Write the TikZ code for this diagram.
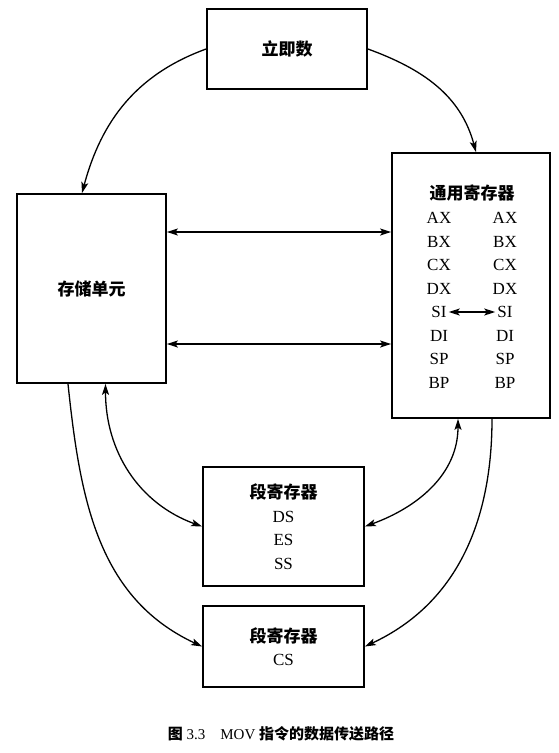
\documentclass[tikz,border=0pt]{standalone}
\usepackage{fontspec}
\setmainfont{Liberation Serif}
\newfontfamily\cjk{Noto Sans CJK SC}
\usetikzlibrary{arrows.meta}
\newcommand{\movTip}{Stealth[length=11pt,width=7pt,inset=2.5pt]}

\begin{document}
\begin{tikzpicture}[x=1pt,y=-1pt,
  movBox/.style={draw, line width=1.8pt, inner sep=0pt, align=center, font={\fontsize{17}{23.5}\selectfont}},
  movHead/.style={font={\cjk\bfseries\fontsize{17}{20}\selectfont}},
  movReg/.style={font={\fontsize{17}{20}\selectfont}, inner sep=2pt},
  movOne/.style={line width=1.3pt, -{\movTip}},
  movTwo/.style={line width=1.3pt, {\movTip}-{\movTip}}]
\useasboundingbox (0,0) rectangle (558,753);
\node[movBox, minimum width=160pt, minimum height=80pt] (imm) at (287,49) {\cjk\bfseries 立即数};
\node[movBox, minimum width=149pt, minimum height=189pt] (mem) at (91.5,288.5) {\cjk\bfseries 存储单元};
\node[movBox, minimum width=158pt, minimum height=265pt] (gpr) at (471,285.5) {};
\node[movBox, minimum width=161pt, minimum height=119pt] (seg) at (283.5,526.5) {{\cjk\bfseries 段寄存器}\\DS\\ES\\SS};
\node[movBox, minimum width=161pt, minimum height=81pt] (cs) at (283.5,646.5) {{\cjk\bfseries 段寄存器}\\CS};
\node[movHead] (gprHead) at (472,193) {通用寄存器};
\foreach \r [count=\i from 0] in {AX,BX,CX,DX,SI,DI,SP,BP}{
  \node[movReg] (l\i) at (439,{218+23.5*\i}) {\r};
  \node[movReg] (r\i) at (505,{218+23.5*\i}) {\r};
}
\draw[movTwo] (l4.east) -- (r4.west);
\draw[movOne] (imm.west) to[out=200,in=75] ([xshift=-9.5pt]mem.north);
\draw[movOne] (imm.east) to[out=-20,in=105] ([xshift=5pt]gpr.north);
\draw[movTwo] ([yshift=56.5pt]mem.east) -- ([yshift=56.5pt]mem.east -| gpr.west);
\draw[movTwo] ([yshift=-55.5pt]mem.east) -- ([yshift=-55.5pt]mem.east -| gpr.west);
\draw[movTwo] ([xshift=14pt]mem.south) to[out=-90,in=160] (seg.west);
\draw[movTwo] ([xshift=-13pt]gpr.south) to[out=-90,in=20] (seg.east);
\draw[movOne] ([xshift=-23.5pt]mem.south) to[out=-84,in=155] (cs.west);
\draw[movOne] ([xshift=21pt]gpr.south) to[out=-90,in=25] (cs.east);
\node[font={\fontsize{15}{17}\selectfont}] (cap) at (281,734) {{\cjk\bfseries 图}~3.3\quad MOV~{\cjk\bfseries 指令的数据传送路径}};
\end{tikzpicture}
\end{document}
